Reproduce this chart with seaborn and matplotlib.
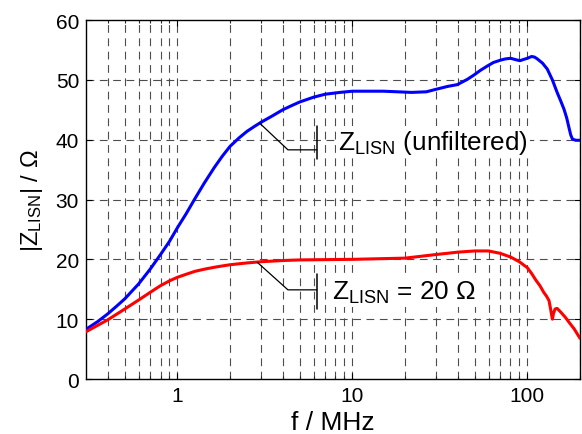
import matplotlib
matplotlib.use("Agg")
import matplotlib.pyplot as plt
import numpy as np
import pandas as pd
import seaborn as sns
from matplotlib.ticker import FixedLocator, FixedFormatter, NullFormatter

# ---------------- data ----------------
blue_f = [0.3, 0.35, 0.4, 0.45, 0.5, 0.6, 0.7, 0.8, 0.9, 1.0, 1.12, 1.25, 1.42,
          1.62, 1.8, 2.0, 2.25, 2.5, 2.75, 3.0, 3.5, 4.0, 4.5, 5.0, 6.0, 7.0,
          8.5, 10, 15, 21.8, 26.5, 29.9, 35, 39.8, 45.5, 49.5, 54, 59, 64, 70.4,
          75, 80.3, 85, 90.7, 95, 100, 105.7, 110, 114, 122, 130, 139, 148, 155,
          162, 168, 173, 177, 181, 189, 200]
blue_z = [8.3, 9.6, 10.9, 12.2, 13.4, 15.9, 18.4, 20.8, 23.0, 25.3, 27.6, 30.0,
          32.7, 35.3, 37.2, 38.9, 40.3, 41.4, 42.2, 42.9, 44.0, 45.0, 45.7, 46.3,
          47.1, 47.6, 47.9, 48.1, 48.1, 47.9, 48.0, 48.4, 48.9, 49.2, 50.1, 50.8,
          51.6, 52.3, 52.9, 53.3, 53.5, 53.6, 53.4, 53.2, 53.4, 53.6, 53.9, 53.8,
          53.5, 52.8, 51.8, 50.0, 47.9, 46.5, 45.1, 43.6, 42.0, 40.8, 40.1, 39.9,
          39.9]

red_f = [0.3, 0.4, 0.5, 0.6, 0.7, 0.8, 0.9, 1.0, 1.12, 1.26, 1.45, 1.68, 2.0,
         2.5, 3.0, 4.0, 5.0, 10, 20, 30, 40, 50, 60, 70, 80, 90, 100, 106, 112,
         118, 124, 129, 133, 136, 139, 141, 144, 148, 155, 165, 175, 185, 200]
red_z = [7.9, 9.9, 11.7, 13.2, 14.5, 15.6, 16.4, 17.0, 17.5, 18.0, 18.4, 18.75,
         19.1, 19.4, 19.6, 19.8, 19.9, 20.0, 20.2, 20.8, 21.2, 21.4, 21.4, 21.0,
         20.4, 19.6, 18.6, 17.6, 16.5, 15.6, 14.5, 13.8, 13.1, 11.6, 10.0, 10.9,
         11.7, 11.8, 11.2, 10.3, 9.3, 8.4, 6.8]

series_names = ["unfiltered", "20 Ohm"]
series_colors = ["#0000ff", "#ff0000"]
label_texts = ["Z$_{\\mathrm{LISN}}$ (unfiltered)", "Z$_{\\mathrm{LISN}}$ = 20 Ω"]

x_major = [1, 10, 100]
x_major_labels = ["1", "10", "100"]
x_minor = [0.4, 0.5, 0.6, 0.7, 0.8, 0.9, 2, 3, 4, 5, 6, 7, 8, 9,
           20, 30, 40, 50, 60, 70, 80, 90, 200]
y_ticks = [0, 10, 20, 30, 40, 50, 60]

# annotation leader geometry (data coords): start, knee, bar, text
ann_start = [(2.94, 42.8), (2.86, 19.5)]
ann_knee = [(4.28, 38.3), (4.28, 14.9)]
ann_bar_x = [6.25, 6.25]
ann_bar_y = [(36.8, 42.3), (11.7, 17.5)]
ann_text = [(8.3, 39.6), (7.6, 14.5)]

df = pd.concat([
    pd.DataFrame({"f": blue_f, "Z": blue_z, "series": series_names[0]}),
    pd.DataFrame({"f": red_f, "Z": red_z, "series": series_names[1]}),
], ignore_index=True)

# ---------------- style ----------------
sns.set_theme(style="white")
plt.rcParams["font.family"] = ["Liberation Sans", "DejaVu Sans"]
plt.rcParams["mathtext.fontset"] = "custom"
plt.rcParams["mathtext.rm"] = "Liberation Sans"
plt.rcParams["mathtext.it"] = "Liberation Sans:italic"
plt.rcParams["mathtext.bf"] = "Liberation Sans:bold"
plt.rcParams["mathtext.default"] = "regular"

fig = plt.figure(figsize=(5.82, 4.35), dpi=100)
ax = fig.add_axes([86 / 582, 1 - 380 / 435, (580 - 86) / 582, (380 - 21) / 435])

ax.set_xscale("log")
ax.set_xlim(0.3, 200)
ax.set_ylim(0, 60)

# grid (MATLAB-like dashed)
grid_kw = dict(color="#4d4d4d", lw=0.8, ls=(0, (7, 5)), zorder=0.5)
for xv in x_major + x_minor:
    ax.axvline(xv, **grid_kw)
for yv in y_ticks[1:-1]:
    ax.axhline(yv, **grid_kw)

sns.lineplot(data=df, x="f", y="Z", hue="series", palette=series_colors,
             hue_order=series_names, linewidth=2.2, legend=False, ax=ax,
             sort=False, estimator=None, zorder=3)

# annotations
for i in range(2):
    (x0, y0), (x1, y1) = ann_start[i], ann_knee[i]
    xb = ann_bar_x[i]
    ax.plot([x0, x1, xb], [y0, y1, y1], color="black", lw=0.9, zorder=4)
    ax.plot([xb, xb], list(ann_bar_y[i]), color="black", lw=1.1, zorder=4)
    ax.text(ann_text[i][0], ann_text[i][1], label_texts[i], fontsize=18.8,
            va="center", ha="left", color="black", zorder=5,
            bbox=dict(facecolor="white", edgecolor="none", pad=1.5))

ax.xaxis.set_major_locator(FixedLocator(x_major))
ax.xaxis.set_major_formatter(FixedFormatter(x_major_labels))
ax.xaxis.set_minor_locator(FixedLocator(x_minor))
ax.xaxis.set_minor_formatter(NullFormatter())
ax.set_yticks(y_ticks)
ax.set_yticklabels([str(v) for v in y_ticks])

ax.tick_params(axis="both", which="major", direction="in", length=4, width=0.8,
               labelsize=15, pad=5, colors="black", top=True, right=True,
               bottom=True, left=True)
ax.tick_params(axis="x", which="minor", direction="in", length=2, width=0.8,
               top=True, bottom=True)
for s in ax.spines.values():
    s.set_color("black")
    s.set_linewidth(1.0)

ax.set_xlabel("f / MHz", fontsize=19, labelpad=4, color="black")
ax.set_ylabel("|Z$_{\\mathrm{LISN}}$| / Ω", fontsize=17, labelpad=8, color="black")

fig.savefig("out.png", dpi=100, facecolor="white")
